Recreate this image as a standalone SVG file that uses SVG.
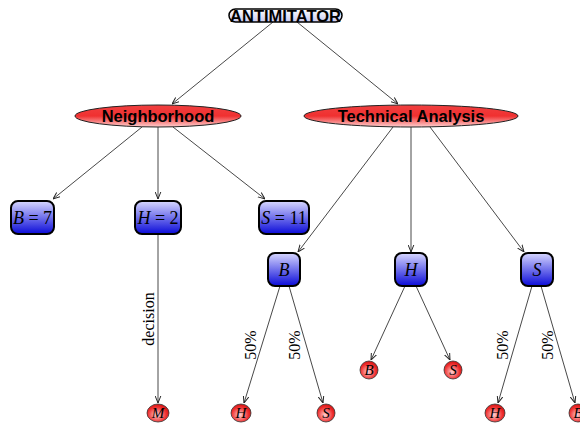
<svg xmlns="http://www.w3.org/2000/svg" width="580" height="427" viewBox="0 0 580 427">
<defs>
<linearGradient id="gRed" x1="0" y1="0" x2="0" y2="1">
<stop offset="0" stop-color="#f04040"/>
<stop offset="0.5" stop-color="#f03030"/>
<stop offset="1" stop-color="#ffd0d0"/>
</linearGradient>
<radialGradient id="gBall" cx="0.45" cy="0.6" r="0.7">
<stop offset="0" stop-color="#ffd0d0"/>
<stop offset="0.6" stop-color="#f03030"/>
<stop offset="1" stop-color="#c00000"/>
</radialGradient>
<linearGradient id="gBlue" x1="0" y1="0" x2="0" y2="1">
<stop offset="0" stop-color="#d8d8ff"/>
<stop offset="1" stop-color="#0a0ad8"/>
</linearGradient>
<linearGradient id="gRoot" x1="0" y1="0" x2="0" y2="1">
<stop offset="0" stop-color="#ffffff"/>
<stop offset="1" stop-color="#c8c8f0"/>
</linearGradient>
<marker id="arr" viewBox="0 0 10 10" refX="10" refY="5" markerWidth="7" markerHeight="7" orient="auto" markerUnits="userSpaceOnUse">
<path d="M0,1 L10,5 L0,9" fill="none" stroke="#222" stroke-width="1.4"/>
</marker>
<style>
.edge{stroke:#333;stroke-width:0.9;fill:none;marker-end:url(#arr)}
.big{fill:url(#gRed);stroke:#222;stroke-width:1}
.box{fill:url(#gBlue);stroke:#000;stroke-width:2}
.ball{fill:url(#gBall);stroke:#333;stroke-width:0.8}
.bt{font-family:"Liberation Sans",Arial,sans-serif;font-weight:bold;font-size:16.5px;fill:#000;text-anchor:middle}
.mt{font-family:"Liberation Serif","Times New Roman",serif;font-style:italic;font-size:18px;fill:#000;text-anchor:middle}
.up{font-style:normal}
.lt{font-family:"Liberation Serif","Times New Roman",serif;font-style:italic;font-size:15px;fill:#000;text-anchor:middle}
.el{font-family:"Liberation Serif","Times New Roman",serif;font-size:16px;fill:#000;text-anchor:middle}
</style>
</defs>
<rect width="580" height="427" fill="#fff"/>
<g id="connectors">
<line class="edge" x1="273" y1="22" x2="172" y2="104"/>
<line class="edge" x1="297" y1="22" x2="398" y2="104"/>
<line class="edge" x1="142" y1="127" x2="53" y2="199"/>
<line class="edge" x1="158" y1="127" x2="158" y2="199"/>
<line class="edge" x1="173" y1="127" x2="265" y2="199"/>
<line class="edge" x1="393" y1="127" x2="298" y2="252"/>
<line class="edge" x1="411" y1="127" x2="411" y2="252"/>
<line class="edge" x1="430" y1="127" x2="524" y2="252"/>
<line class="edge" x1="158" y1="234" x2="158" y2="403"/>
<line class="edge" x1="280" y1="286" x2="244" y2="403"/>
<line class="edge" x1="289" y1="286" x2="323" y2="403"/>
<line class="edge" x1="405" y1="286" x2="371" y2="360"/>
<line class="edge" x1="416" y1="286" x2="450" y2="360"/>
<line class="edge" x1="532" y1="286" x2="498" y2="403"/>
<line class="edge" x1="541" y1="286" x2="575" y2="403"/>
<text class="el" transform="translate(154,319) rotate(-90)">decision</text>
<text class="el" transform="translate(256,345) rotate(-90)">50%</text>
<text class="el" transform="translate(300,345) rotate(-90)">50%</text>
<text class="el" transform="translate(508,345) rotate(-90)">50%</text>
<text class="el" transform="translate(553,345) rotate(-90)">50%</text>
</g>
<g id="root">
<rect x="229" y="9" width="113" height="13" rx="6.5" fill="url(#gRoot)" stroke="#000" stroke-width="1.5"/>
<text class="bt" x="285.5" y="21.5">ANTIMITATOR</text>
</g>
<g id="neighborhood">
<ellipse class="big" cx="158" cy="116" rx="83" ry="11"/>
<text class="bt" x="158" y="122">Neighborhood</text>
</g>
<g id="technical">
<ellipse class="big" cx="411" cy="116" rx="107" ry="11"/>
<text class="bt" x="411" y="122">Technical Analysis</text>
</g>
<g id="b7">
<rect class="box" x="11" y="201" width="43" height="33" rx="7"/>
<text class="mt" x="32.5" y="224">B <tspan class="up">= 7</tspan></text>
</g>
<g id="h2">
<rect class="box" x="135" y="201" width="46" height="33" rx="7"/>
<text class="mt" x="158" y="224">H <tspan class="up">= 2</tspan></text>
</g>
<g id="s11">
<rect class="box" x="259" y="201" width="50" height="33" rx="7"/>
<text class="mt" x="284" y="224">S <tspan class="up">= 11</tspan></text>
</g>
<g id="nB">
<rect class="box" x="268" y="253" width="32" height="33" rx="7"/>
<text class="mt" x="284" y="276">B</text>
</g>
<g id="nH">
<rect class="box" x="395" y="253" width="32" height="33" rx="7"/>
<text class="mt" x="411" y="276">H</text>
</g>
<g id="nS">
<rect class="box" x="521" y="253" width="32" height="33" rx="7"/>
<text class="mt" x="537" y="276">S</text>
</g>
<g id="leafM">
<ellipse class="ball" cx="158" cy="413" rx="11" ry="9"/>
<text class="lt" x="158" y="418">M</text>
</g>
<g id="leafH1">
<ellipse class="ball" cx="241" cy="413" rx="10" ry="9"/>
<text class="lt" x="241" y="418">H</text>
</g>
<g id="leafS1">
<ellipse class="ball" cx="326" cy="413" rx="9" ry="9"/>
<text class="lt" x="326" y="418">S</text>
</g>
<g id="leafB2">
<ellipse class="ball" cx="369" cy="370" rx="9" ry="9"/>
<text class="lt" x="369" y="375">B</text>
</g>
<g id="leafS2">
<ellipse class="ball" cx="453" cy="370" rx="9" ry="9"/>
<text class="lt" x="453" y="375">S</text>
</g>
<g id="leafH3">
<ellipse class="ball" cx="495" cy="413" rx="10" ry="9"/>
<text class="lt" x="495" y="418">H</text>
</g>
<g id="leafB3">
<ellipse class="ball" cx="578" cy="413" rx="9" ry="9"/>
<text class="lt" x="578" y="418">B</text>
</g>
</svg>
